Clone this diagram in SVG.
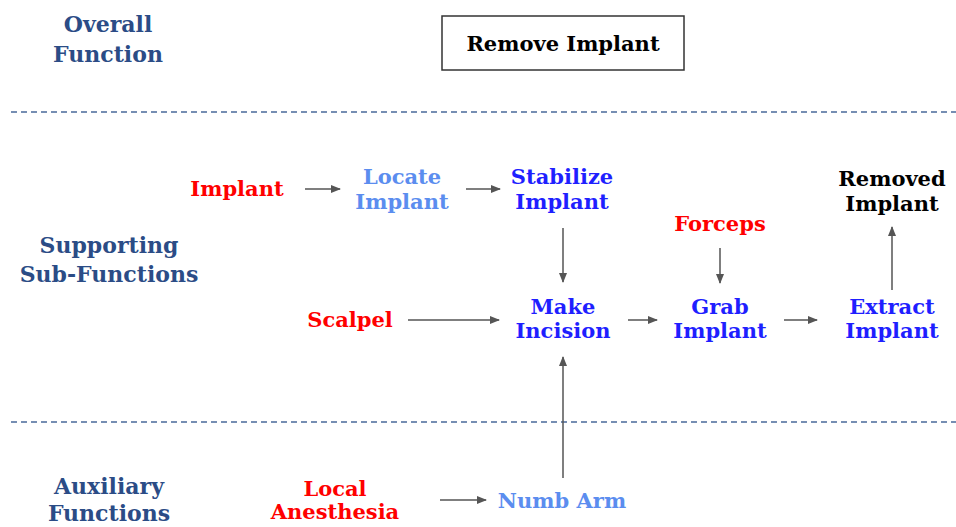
<svg xmlns="http://www.w3.org/2000/svg" width="956" height="527" viewBox="0 0 956 527">
  <style>
    text { font-family: "DejaVu Serif", "Liberation Serif", serif; font-weight: bold; font-size: 21px; text-anchor: middle; }
    .head { fill: #2B4C86; font-size: 22px; }
    .input { fill: #FF0000; }
    .func { fill: #1F1FFF; }
    .aux { fill: #5B8DEF; }
    .out { fill: #000000; }
    .sep { stroke: #4A6A9A; stroke-width: 1.5; stroke-dasharray: 6 4; fill: none; }
    .conn { stroke: #555555; stroke-width: 1.5; fill: none; marker-end: url(#arrow); }
  </style>
  <defs>
    <marker id="arrow" markerWidth="10" markerHeight="8" refX="9" refY="4" orient="auto" markerUnits="userSpaceOnUse">
      <path d="M0,0 L10,4 L0,8 Z" fill="#555555"/>
    </marker>
  </defs>
  <rect width="956" height="527" fill="#FFFFFF"/>

  <!-- level labels -->
  <g id="label-overall"><text class="head" x="108" y="32">Overall</text><text class="head" x="108" y="62">Function</text></g>
  <g id="label-supporting"><text class="head" x="109" y="253">Supporting</text><text class="head" x="109" y="282">Sub-Functions</text></g>
  <g id="label-auxiliary"><text class="head" x="109" y="494">Auxiliary</text><text class="head" x="109" y="521">Functions</text></g>

  <!-- level separators -->
  <line class="sep" x1="11" y1="112" x2="956" y2="112"/>
  <line class="sep" x1="11" y1="422" x2="956" y2="422"/>

  <!-- overall function -->
  <g id="remove-implant">
    <rect x="442" y="16" width="242" height="54" fill="#FFFFFF" stroke="#333333" stroke-width="1.5"/>
    <text class="out" x="563" y="51">Remove Implant</text>
  </g>

  <!-- supporting sub-functions -->
  <g id="implant"><text class="input" x="237" y="196">Implant</text></g>
  <g id="locate-implant"><text class="aux" x="402" y="184">Locate</text><text class="aux" x="402" y="209">Implant</text></g>
  <g id="stabilize-implant"><text class="func" x="562" y="184">Stabilize</text><text class="func" x="562" y="209">Implant</text></g>
  <g id="forceps"><text class="input" x="720" y="231">Forceps</text></g>
  <g id="removed-implant"><text class="out" x="892" y="186">Removed</text><text class="out" x="892" y="211">Implant</text></g>
  <g id="scalpel"><text class="input" x="350" y="327">Scalpel</text></g>
  <g id="make-incision"><text class="func" x="563" y="314">Make</text><text class="func" x="563" y="338">Incision</text></g>
  <g id="grab-implant"><text class="func" x="720" y="314">Grab</text><text class="func" x="720" y="338">Implant</text></g>
  <g id="extract-implant"><text class="func" x="892" y="314">Extract</text><text class="func" x="892" y="338">Implant</text></g>

  <!-- auxiliary functions -->
  <g id="local-anesthesia"><text class="input" x="335" y="496">Local</text><text class="input" x="335" y="519">Anesthesia</text></g>
  <g id="numb-arm"><text class="aux" x="562" y="508">Numb Arm</text></g>

  <!-- connectors -->
  <g id="connectors">
    <line class="conn" x1="305" y1="189" x2="340" y2="189"/>
    <line class="conn" x1="466" y1="189" x2="500" y2="189"/>
    <line class="conn" x1="563" y1="228" x2="563" y2="282"/>
    <line class="conn" x1="720" y1="248" x2="720" y2="283"/>
    <line class="conn" x1="892" y1="290" x2="892" y2="227"/>
    <line class="conn" x1="408" y1="320" x2="499" y2="320"/>
    <line class="conn" x1="628" y1="320" x2="657" y2="320"/>
    <line class="conn" x1="784" y1="320" x2="817" y2="320"/>
    <line class="conn" x1="563" y1="478" x2="563" y2="357"/>
    <line class="conn" x1="440" y1="500" x2="486" y2="500"/>
  </g>
</svg>
